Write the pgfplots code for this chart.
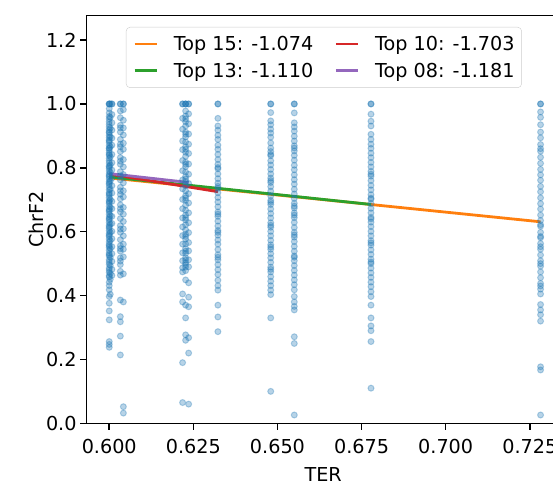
\documentclass[border=0pt]{standalone}
\usepackage{fontspec}
\setmainfont{DejaVu Sans}
\usepackage{pgfplots}
\pgfplotsset{compat=1.18}
\usetikzlibrary{calc}
\definecolor{c0}{HTML}{1F77B4}
\definecolor{c1}{HTML}{FF7F0E}
\definecolor{c2}{HTML}{2CA02C}
\definecolor{c3}{HTML}{D62728}
\definecolor{c4}{HTML}{9467BD}
\newcommand\ff{\fontsize{19.2}{23}\selectfont}

\begin{document}
\begin{tikzpicture}
\begin{axis}[
    name=ax,
    scale only axis,
    width=466.3pt, height=407.8pt,
    xmin=0.5933, xmax=0.7319,
    ymin=0, ymax=1.277,
    axis x line*=bottom, axis y line*=left,
    axis line style={-, line width=1.5pt},
    tick align=outside,
    major tick length=6.6pt,
    tick style={line width=1.5pt, black},
    xtick={0.6,0.625,0.65,0.675,0.7,0.725},
    ytick={0,0.2,0.4,0.6,0.8,1.0,1.2},
    scaled x ticks=false,
    /pgf/number format/assume math mode=true,
    xticklabel style={/pgf/number format/fixed, /pgf/number format/precision=3, /pgf/number format/fixed zerofill, yshift=-6pt},
    yticklabel style={/pgf/number format/fixed, /pgf/number format/precision=1, /pgf/number format/fixed zerofill},
    tick label style={font=\ff},
    label style={font=\ff},
    xlabel={TER},
    ylabel={ChrF2},
    xlabel style={at={(axis description cs:0.507,-0.1265)}, anchor=center},
    ylabel style={at={(axis description cs:-0.109,0.5)}, anchor=center},
    legend columns=2,
    transpose legend,
    legend image code/.code={\draw[#1] (0pt,0pt) -- (22pt,0pt);},
    legend style={font=\ff, draw=black!20, rounded corners=4pt, fill=white, fill opacity=0.8, text opacity=1,
        at={(axis cs:0.6638,1.241)}, anchor=north, inner xsep=7pt, inner ysep=9pt, row sep=11pt,
        nodes={inner xsep=0pt, inner ysep=0pt},
        /tikz/every odd column/.append style={column sep=16pt},
        /tikz/every even column/.append style={column sep=21pt}},
]
\addplot[only marks, mark=*, mark size=3pt, mark options={draw=c0, fill=c0, opacity=0.32, line width=1pt}, forget plot]
coordinates {
(0.6000,1.000) (0.6000,1.000) (0.6000,1.000) (0.6000,0.985) (0.6000,0.972) (0.6000,0.961) (0.6000,0.953) (0.6000,0.944)
(0.6000,0.936) (0.6000,0.928) (0.6000,0.919) (0.6000,0.910) (0.6000,0.902) (0.6000,0.895) (0.6000,0.887) (0.6000,0.879)
(0.6000,0.870) (0.6000,0.862) (0.6000,0.855) (0.6000,0.847) (0.6000,0.839) (0.6000,0.830) (0.6000,0.822) (0.6000,0.815)
(0.6000,0.806) (0.6000,0.798) (0.6000,0.790) (0.6000,0.781) (0.6000,0.772) (0.6000,0.765) (0.6000,0.757) (0.6000,0.748)
(0.6000,0.740) (0.6000,0.731) (0.6000,0.722) (0.6000,0.714) (0.6000,0.706) (0.6000,0.697) (0.6000,0.689) (0.6000,0.680)
(0.6000,0.671) (0.6000,0.663) (0.6000,0.655) (0.6000,0.646) (0.6000,0.637) (0.6000,0.629) (0.6000,0.620) (0.6000,0.611)
(0.6000,0.603) (0.6000,0.594) (0.6000,0.585) (0.6000,0.577) (0.6000,0.568) (0.6000,0.560) (0.6000,0.551) (0.6000,0.542)
(0.6000,0.533) (0.6000,0.524) (0.6000,0.512) (0.6000,0.498) (0.6000,0.486) (0.6000,0.473) (0.6000,0.458) (0.6000,0.442)
(0.6000,0.431) (0.6000,0.418) (0.6000,0.397) (0.6000,0.376) (0.6000,0.352) (0.6000,0.324) (0.6000,0.256) (0.6000,0.247)
(0.6000,0.238) (0.6000,0.912) (0.6000,0.884) (0.6000,0.861) (0.6000,0.842) (0.6000,0.803) (0.6000,0.776) (0.6000,0.752)
(0.6000,0.718) (0.6000,0.693) (0.6000,0.667) (0.6000,0.641) (0.6000,0.615) (0.6000,0.589) (0.6000,0.556) (0.6000,0.528)
(0.6000,0.505) (0.6000,0.480) (0.6000,0.462)
(0.6003,1.000) (0.6003,0.958) (0.6003,0.924) (0.6003,0.897) (0.6003,0.866) (0.6003,0.834) (0.6003,0.809) (0.6003,0.786)
(0.6003,0.759) (0.6003,0.733) (0.6003,0.701) (0.6003,0.676) (0.6003,0.650) (0.6003,0.624) (0.6003,0.598) (0.6003,0.572)
(0.6003,0.547) (0.6003,0.519) (0.6003,0.494) (0.6003,0.469) (0.6003,0.451) (0.6003,0.404)
(0.6008,1.000) (0.6008,1.000) (0.6008,0.967) (0.6008,0.941) (0.6008,0.918) (0.6008,0.893) (0.6008,0.871) (0.6008,0.842)
(0.6008,0.816) (0.6008,0.793) (0.6008,0.768) (0.6008,0.744) (0.6008,0.721) (0.6008,0.695) (0.6008,0.672) (0.6008,0.648)
(0.6008,0.626) (0.6008,0.601) (0.6008,0.578) (0.6008,0.553) (0.6008,0.531) (0.6008,0.507) (0.6008,0.482) (0.6008,0.463)
(0.6033,1.000) (0.6033,1.000) (0.6033,0.978) (0.6033,0.957) (0.6033,0.933) (0.6033,0.912) (0.6033,0.889) (0.6033,0.866)
(0.6033,0.851) (0.6033,0.832) (0.6033,0.811) (0.6033,0.788) (0.6033,0.762) (0.6033,0.739) (0.6033,0.717) (0.6033,0.703)
(0.6033,0.684) (0.6033,0.662) (0.6033,0.641) (0.6033,0.619) (0.6033,0.598) (0.6033,0.575) (0.6033,0.556) (0.6033,0.539)
(0.6033,0.518) (0.6033,0.497) (0.6033,0.476) (0.6033,0.464) (0.6033,0.386) (0.6033,0.334) (0.6033,0.318) (0.6033,0.273)
(0.6033,0.214) (0.6033,0.925) (0.6033,0.874) (0.6033,0.821) (0.6033,0.775) (0.6033,0.728) (0.6033,0.672) (0.6033,0.608)
(0.6033,0.547) (0.6033,0.508)
(0.6042,1.000) (0.6042,1.000) (0.6042,0.982) (0.6042,0.949) (0.6042,0.925) (0.6042,0.903) (0.6042,0.877) (0.6042,0.858)
(0.6042,0.826) (0.6042,0.803) (0.6042,0.779) (0.6042,0.753) (0.6042,0.728) (0.6042,0.709) (0.6042,0.676) (0.6042,0.655)
(0.6042,0.632) (0.6042,0.609) (0.6042,0.587) (0.6042,0.561) (0.6042,0.545) (0.6042,0.521) (0.6042,0.468) (0.6042,0.380)
(0.6042,0.052) (0.6042,0.032)
(0.6218,1.000) (0.6218,1.000) (0.6218,0.955) (0.6218,0.921) (0.6218,0.884) (0.6218,0.857) (0.6218,0.823) (0.6218,0.791)
(0.6218,0.762) (0.6218,0.734) (0.6218,0.701) (0.6218,0.672) (0.6218,0.643) (0.6218,0.615) (0.6218,0.588) (0.6218,0.561)
(0.6218,0.534) (0.6218,0.509) (0.6218,0.487) (0.6218,0.474) (0.6218,0.405) (0.6218,0.380) (0.6218,0.190) (0.6218,0.065)
(0.6227,1.000) (0.6227,1.000) (0.6227,1.000) (0.6227,0.978) (0.6227,0.962) (0.6227,0.944) (0.6227,0.931) (0.6227,0.912)
(0.6227,0.897) (0.6227,0.881) (0.6227,0.866) (0.6227,0.849) (0.6227,0.836) (0.6227,0.818) (0.6227,0.804) (0.6227,0.787)
(0.6227,0.773) (0.6227,0.757) (0.6227,0.744) (0.6227,0.728) (0.6227,0.713) (0.6227,0.698) (0.6227,0.683) (0.6227,0.667)
(0.6227,0.652) (0.6227,0.637) (0.6227,0.622) (0.6227,0.606) (0.6227,0.592) (0.6227,0.577) (0.6227,0.562) (0.6227,0.547)
(0.6227,0.532) (0.6227,0.518) (0.6227,0.503) (0.6227,0.489) (0.6227,0.478) (0.6227,0.449) (0.6227,0.370) (0.6227,0.330)
(0.6227,0.277) (0.6227,0.260) (0.6227,0.953) (0.6227,0.905) (0.6227,0.858) (0.6227,0.811) (0.6227,0.765) (0.6227,0.706)
(0.6227,0.644) (0.6227,0.585) (0.6227,0.539) (0.6227,0.511) (0.6227,0.496)
(0.6236,1.000) (0.6236,1.000) (0.6236,0.969) (0.6236,0.938) (0.6236,0.906) (0.6236,0.874) (0.6236,0.845) (0.6236,0.812)
(0.6236,0.780) (0.6236,0.751) (0.6236,0.719) (0.6236,0.690) (0.6236,0.659) (0.6236,0.628) (0.6236,0.597) (0.6236,0.566)
(0.6236,0.540) (0.6236,0.512) (0.6236,0.490) (0.6236,0.440) (0.6236,0.395) (0.6236,0.365) (0.6236,0.268) (0.6236,0.220)
(0.6236,0.060)
(0.6323,1.000) (0.6323,1.000) (0.6323,0.955) (0.6323,0.931) (0.6323,0.918) (0.6323,0.902) (0.6323,0.889) (0.6323,0.871)
(0.6323,0.858) (0.6323,0.842) (0.6323,0.826) (0.6323,0.811) (0.6323,0.797) (0.6323,0.781) (0.6323,0.766) (0.6323,0.752)
(0.6323,0.736) (0.6323,0.722) (0.6323,0.707) (0.6323,0.693) (0.6323,0.678) (0.6323,0.662) (0.6323,0.648) (0.6323,0.633)
(0.6323,0.618) (0.6323,0.604) (0.6323,0.589) (0.6323,0.574) (0.6323,0.561) (0.6323,0.544) (0.6323,0.528) (0.6323,0.512)
(0.6323,0.497) (0.6323,0.481) (0.6323,0.466) (0.6323,0.448) (0.6323,0.431) (0.6323,0.417) (0.6323,0.370) (0.6323,0.333)
(0.6323,0.287) (0.6323,0.801) (0.6323,0.742) (0.6323,0.655) (0.6323,0.598) (0.6323,0.520)
(0.6480,1.000) (0.6480,1.000) (0.6480,0.973) (0.6480,0.947) (0.6480,0.935) (0.6480,0.921) (0.6480,0.909) (0.6480,0.896)
(0.6480,0.878) (0.6480,0.862) (0.6480,0.851) (0.6480,0.838) (0.6480,0.822) (0.6480,0.809) (0.6480,0.795) (0.6480,0.781)
(0.6480,0.768) (0.6480,0.754) (0.6480,0.741) (0.6480,0.727) (0.6480,0.712) (0.6480,0.698) (0.6480,0.685) (0.6480,0.671)
(0.6480,0.657) (0.6480,0.643) (0.6480,0.628) (0.6480,0.614) (0.6480,0.601) (0.6480,0.587) (0.6480,0.573) (0.6480,0.559)
(0.6480,0.545) (0.6480,0.531) (0.6480,0.518) (0.6480,0.504) (0.6480,0.489) (0.6480,0.474) (0.6480,0.459) (0.6480,0.445)
(0.6480,0.431) (0.6480,0.417) (0.6480,0.403) (0.6480,0.330) (0.6480,0.100) (0.6480,0.842) (0.6480,0.760) (0.6480,0.692)
(0.6480,0.620) (0.6480,0.552) (0.6480,0.482)
(0.6550,1.000) (0.6550,1.000) (0.6550,0.972) (0.6550,0.941) (0.6550,0.928) (0.6550,0.915) (0.6550,0.899) (0.6550,0.884)
(0.6550,0.869) (0.6550,0.853) (0.6550,0.839) (0.6550,0.824) (0.6550,0.808) (0.6550,0.794) (0.6550,0.778) (0.6550,0.763)
(0.6550,0.749) (0.6550,0.733) (0.6550,0.718) (0.6550,0.704) (0.6550,0.689) (0.6550,0.674) (0.6550,0.659) (0.6550,0.644)
(0.6550,0.629) (0.6550,0.613) (0.6550,0.598) (0.6550,0.583) (0.6550,0.569) (0.6550,0.554) (0.6550,0.539) (0.6550,0.524)
(0.6550,0.509) (0.6550,0.494) (0.6550,0.479) (0.6550,0.464) (0.6550,0.449) (0.6550,0.434) (0.6550,0.418) (0.6550,0.397)
(0.6550,0.380) (0.6550,0.366) (0.6550,0.355) (0.6550,0.271) (0.6550,0.250) (0.6550,0.026) (0.6550,0.862) (0.6550,0.680)
(0.6550,0.652) (0.6550,0.590) (0.6550,0.520)
(0.6778,1.000) (0.6778,1.000) (0.6778,0.968) (0.6778,0.946) (0.6778,0.931) (0.6778,0.905) (0.6778,0.889) (0.6778,0.874)
(0.6778,0.861) (0.6778,0.846) (0.6778,0.832) (0.6778,0.817) (0.6778,0.803) (0.6778,0.789) (0.6778,0.774) (0.6778,0.760)
(0.6778,0.745) (0.6778,0.731) (0.6778,0.716) (0.6778,0.702) (0.6778,0.688) (0.6778,0.673) (0.6778,0.659) (0.6778,0.645)
(0.6778,0.630) (0.6778,0.616) (0.6778,0.601) (0.6778,0.587) (0.6778,0.572) (0.6778,0.558) (0.6778,0.543) (0.6778,0.529)
(0.6778,0.514) (0.6778,0.500) (0.6778,0.486) (0.6778,0.471) (0.6778,0.457) (0.6778,0.442) (0.6778,0.428) (0.6778,0.412)
(0.6778,0.397) (0.6778,0.370) (0.6778,0.330) (0.6778,0.305) (0.6778,0.290) (0.6778,0.256) (0.6778,0.110) (0.6778,0.780)
(0.6778,0.705) (0.6778,0.640) (0.6778,0.565) (0.6778,0.505)
(0.7282,1.000) (0.7282,1.000) (0.7282,0.975) (0.7282,0.958) (0.7282,0.935) (0.7282,0.912) (0.7282,0.894) (0.7282,0.873)
(0.7282,0.852) (0.7282,0.833) (0.7282,0.814) (0.7282,0.795) (0.7282,0.778) (0.7282,0.761) (0.7282,0.742) (0.7282,0.725)
(0.7282,0.706) (0.7282,0.688) (0.7282,0.671) (0.7282,0.652) (0.7282,0.635) (0.7282,0.617) (0.7282,0.598) (0.7282,0.581)
(0.7282,0.563) (0.7282,0.545) (0.7282,0.527) (0.7282,0.509) (0.7282,0.492) (0.7282,0.474) (0.7282,0.456) (0.7282,0.438)
(0.7282,0.420) (0.7282,0.405) (0.7282,0.372) (0.7282,0.355) (0.7282,0.340) (0.7282,0.320) (0.7282,0.177) (0.7282,0.167)
(0.7282,0.026) (0.7282,0.622) (0.7282,0.585) (0.7282,0.553) (0.7282,0.500) (0.7282,0.430) (0.7282,0.860)
};
\addplot[c1, line width=2.8pt] coordinates {(0.6000,0.7686) (0.7282,0.6310)};
\addlegendentry{Top 15: -1.074}
\addplot[c2, line width=2.8pt] coordinates {(0.6000,0.7717) (0.6778,0.6853)};
\addlegendentry{Top 13: -1.110}
\addplot[c3, line width=2.8pt] coordinates {(0.6000,0.7803) (0.6323,0.7253)};
\addlegendentry{Top 10: -1.703}
\addplot[c4, line width=2.8pt] coordinates {(0.6000,0.7820) (0.6236,0.7541)};
\addlegendentry{Top 08: -1.181}
\end{axis}
\draw[line width=1.5pt] ([xshift=-0.75pt]ax.north west) -- (ax.north east);
\pgfresetboundingbox
\path[use as bounding box] ($(ax.south west)+(-86.7pt,-61.7pt)$) rectangle ($(ax.north east)+(0pt,15.5pt)$);
\end{tikzpicture}
\end{document}
